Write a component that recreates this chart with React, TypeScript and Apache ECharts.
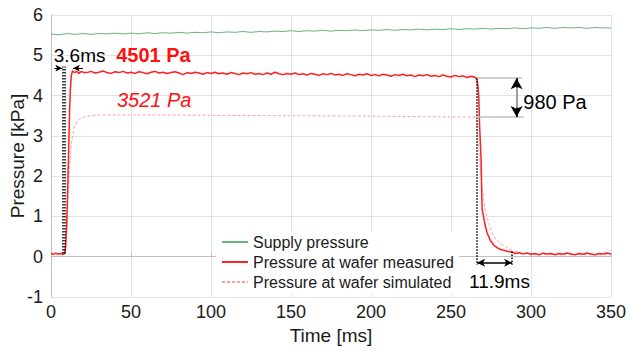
import React, { useEffect, useRef } from "react";
import * as echarts from "echarts";

// Time [ms], pressure [kPa]
const supplyPressure: [number, number][] = [
  [0, 5.53], [5, 5.51], [10, 5.54], [15, 5.52], [20, 5.54], [25, 5.52], [30, 5.54], [35, 5.53], [40, 5.55],
  [45, 5.53], [50, 5.55], [55, 5.53], [60, 5.56], [65, 5.54], [70, 5.56], [75, 5.55], [80, 5.57], [85, 5.55],
  [90, 5.57], [95, 5.56], [100, 5.58], [105, 5.56], [110, 5.58], [115, 5.57], [120, 5.59], [125, 5.57],
  [130, 5.59], [135, 5.58], [140, 5.60], [145, 5.59], [150, 5.61], [155, 5.59], [160, 5.61], [165, 5.60],
  [170, 5.62], [175, 5.60], [180, 5.62], [185, 5.61], [190, 5.63], [195, 5.61], [200, 5.63], [205, 5.62],
  [210, 5.64], [215, 5.62], [220, 5.64], [225, 5.63], [230, 5.65], [235, 5.63], [240, 5.65], [245, 5.64],
  [250, 5.66], [255, 5.64], [260, 5.66], [265, 5.65], [270, 5.67], [275, 5.65], [280, 5.67], [285, 5.66],
  [290, 5.68], [295, 5.66], [300, 5.68], [305, 5.67], [310, 5.69], [315, 5.67], [320, 5.69], [325, 5.68],
  [330, 5.69], [335, 5.67], [340, 5.69], [345, 5.68], [350, 5.68],
];

const measuredPressure: [number, number][] = [
  [0, 0.08], [1.5, 0.06], [3, 0.09], [4.5, 0.07], [6, 0.08], [7.5, 0.06], [8.5, 0.08],
  [9.2, 0.3], [9.8, 0.75], [10.3, 1.5], [10.7, 2.1], [11.2, 2.9], [11.6, 3.6], [12.1, 4.15], [12.7, 4.5],
  [13.5, 4.62], [14.5, 4.57], [16, 4.6], [17.5, 4.55], [19, 4.6], [20.5, 4.57],
  [22.5, 4.57], [25, 4.6], [27.5, 4.56], [30, 4.58], [32.5, 4.61], [35, 4.57], [37.5, 4.55], [40, 4.59],
  [42.5, 4.57], [45, 4.6], [47.5, 4.56], [50, 4.58], [52.5, 4.55], [55, 4.59], [57.5, 4.57], [60, 4.54],
  [62.5, 4.58], [65, 4.6], [67.5, 4.56], [70, 4.58], [72.5, 4.55], [75, 4.57], [77.5, 4.59], [80, 4.56],
  [82.5, 4.52], [85, 4.57], [87.5, 4.55], [90, 4.58], [92.5, 4.56], [95, 4.53], [97.5, 4.57], [100, 4.55],
  [102.5, 4.58], [105, 4.54], [107.5, 4.56], [110, 4.53], [112.5, 4.57], [115, 4.55], [117.5, 4.52],
  [120, 4.56], [122.5, 4.54], [125, 4.57], [127.5, 4.53], [130, 4.55], [132.5, 4.52], [135, 4.56],
  [137.5, 4.53], [140, 4.58], [142.5, 4.54], [145, 4.52], [147.5, 4.55], [150, 4.53], [152.5, 4.56],
  [155, 4.52], [157.5, 4.54], [160, 4.51], [162.5, 4.55], [165, 4.53], [167.5, 4.5], [170, 4.54],
  [172.5, 4.52], [175, 4.55], [177.5, 4.51], [180, 4.53], [182.5, 4.5], [185, 4.54], [187.5, 4.52],
  [190, 4.49], [192.5, 4.53], [195, 4.51], [197.5, 4.54], [200, 4.5], [202.5, 4.52], [205, 4.49],
  [207.5, 4.53], [210, 4.51], [212.5, 4.48], [215, 4.52], [217.5, 4.5], [220, 4.53], [222.5, 4.49],
  [225, 4.51], [227.5, 4.47], [230, 4.51], [232.5, 4.49], [235, 4.52], [237.5, 4.48], [240, 4.5],
  [242.5, 4.47], [245, 4.51], [247.5, 4.48], [250, 4.46], [252.5, 4.5], [255, 4.47], [257.5, 4.49],
  [260, 4.45], [262.5, 4.48], [264.5, 4.46], [266, 4.43],
  [266.8, 4.25], [267.3, 4.02], [267.9, 3.23], [268.8, 2.4], [269.2, 1.57], [269.5, 1.16], [270.4, 0.99],
  [271.5, 0.75], [272.6, 0.59], [274.5, 0.41], [276.7, 0.29], [279, 0.22], [281, 0.18], [283, 0.16],
  [285.5, 0.13], [288, 0.12], [290, 0.08], [292.5, 0.1], [295, 0.07], [297.5, 0.09], [300, 0.06],
  [302.5, 0.08], [305, 0.05], [307.5, 0.09], [310, 0.07], [312.5, 0.08], [315, 0.05], [317.5, 0.08],
  [320, 0.06], [322.5, 0.09], [325, 0.07], [327.5, 0.05], [330, 0.08], [332.5, 0.06], [335, 0.09],
  [337.5, 0.07], [340, 0.05], [342.5, 0.08], [345, 0.07], [347.5, 0.09], [350, 0.07],
];

const simulatedPressure: [number, number][] = [
  [0, 0.05], [8.5, 0.05], [9.5, 0.5], [10.5, 1.3], [11.5, 2.1], [12.5, 2.7], [13.5, 3.0], [15, 3.25],
  [17, 3.38], [20, 3.46], [25, 3.5], [30, 3.52], [40, 3.52], [60, 3.52], [100, 3.51], [150, 3.5],
  [200, 3.49], [250, 3.47], [265.3, 3.47], [266.5, 3.1], [267.5, 2.6], [268.5, 2.1], [269.5, 1.7],
  [270.5, 1.4], [272, 1.05], [274, 0.8], [276.5, 0.52], [279.5, 0.38], [283, 0.28], [287, 0.18],
  [291.5, 0.12], [296, 0.08], [300, 0.06], [320, 0.05], [350, 0.05],
];

const seriesNames = ["Supply pressure", "Pressure at wafer measured", "Pressure at wafer simulated"];
const xTicks = { min: 0, max: 350, interval: 50 };
const yTicks = { min: -1, max: 6, interval: 1 };

const FONT = "'Liberation Sans', Arial, sans-serif";

const dotted = { color: "#000", type: "dotted" as const, width: 1.5 };
const arrowLine = { color: "#000", type: "solid" as const, width: 1 };

function seg(a: [number, number], b: [number, number], ls: any, s1 = "none", s2 = "none", size: any = [6, 8]) {
  return [
    { coord: a, symbol: s1, symbolSize: size, lineStyle: ls },
    { coord: b, symbol: s2, symbolSize: size, lineStyle: ls },
  ];
}

function txt(coord: [number, number], text: string, extra: any) {
  return {
    coord,
    symbol: "rect",
    symbolSize: 0,
    itemStyle: { color: "transparent" },
    label: { show: true, position: "inside", formatter: text, fontFamily: FONT, ...extra },
  };
}

export default function App() {
  const ref = useRef<HTMLDivElement>(null);
  useEffect(() => {
    if (!ref.current) return;
    const chart = echarts.init(ref.current, null, { renderer: "svg" });
    const gray = { color: "#bfbfbf", type: "solid" as const, width: 1.5 };
    const darkGray = { color: "#7f7f7f", type: "solid" as const, width: 1.5 };
    chart.setOption({
      animation: false,
      textStyle: { fontFamily: FONT },
      grid: { left: 51, right: 19, top: 15, bottom: 54, containLabel: false, outerBoundsMode: "none" },
      legend: {
        data: seriesNames,
        orient: "vertical",
        left: 216,
        top: 231,
        itemWidth: 26,
        itemHeight: 10,
        itemGap: 2,
        padding: [2, 5],
        backgroundColor: "#fff",
        itemStyle: { opacity: 0 },
        textStyle: { fontSize: 16, color: "#1a1a1a", fontFamily: FONT, lineHeight: 18 },
      },
      xAxis: {
        type: "value",
        ...xTicks,
        name: "Time [ms]",
        nameLocation: "middle",
        nameGap: 29,
        nameMoveOverlap: false,
        nameTextStyle: { fontSize: 19, color: "#1a1a1a", fontFamily: FONT },
        axisLine: { show: true, lineStyle: { color: "#bfbfbf", width: 1 } },
        axisTick: { show: true, inside: true, length: 4, lineStyle: { color: "#bfbfbf" } },
        axisLabel: { fontSize: 18, color: "#1a1a1a", margin: 6, fontFamily: FONT },
        splitLine: { show: true, lineStyle: { color: "#e3e3e3", width: 1 } },
      },
      yAxis: {
        type: "value",
        ...yTicks,
        name: "Pressure [kPa]",
        nameLocation: "middle",
        nameGap: 24,
        nameMoveOverlap: false,
        nameTextStyle: { fontSize: 19, color: "#1a1a1a", fontFamily: FONT },
        axisLine: { show: true, lineStyle: { color: "#bfbfbf", width: 1 } },
        axisTick: { show: false },
        axisLabel: { fontSize: 18, color: "#1a1a1a", margin: 8, fontFamily: FONT },
        splitLine: { show: true, lineStyle: { color: "#e3e3e3", width: 1 } },
      },
      series: [
        {
          name: seriesNames[0],
          type: "line",
          data: supplyPressure,
          showSymbol: false,
          symbol: "none",
          lineStyle: { color: "#6cb47a", width: 1 },
          itemStyle: { color: "#6cb47a" },
        },
        {
          name: seriesNames[2],
          type: "line",
          data: simulatedPressure,
          showSymbol: false,
          symbol: "none",
          smooth: 0.3,
          lineStyle: { color: "#ffa0a0", width: 1, type: [3, 2] },
          itemStyle: { color: "#ffa0a0" },
        },
        {
          name: seriesNames[1],
          type: "line",
          data: measuredPressure,
          showSymbol: false,
          symbol: "none",
          lineStyle: { color: "#ff2020", width: 1.5 },
          itemStyle: { color: "#ff2020" },
        },
        {
          name: "annotations",
          type: "line",
          data: [],
          silent: true,
          markLine: {
            silent: true,
            animation: false,
            label: { show: false },
            emphasis: { disabled: true },
            data: [
              seg([7.1, 0.08], [7.1, 4.72], dotted),
              seg([8.5, 0.08], [8.5, 4.72], dotted),
              seg([2.2, 4.68], [7.1, 4.68], arrowLine, "none", "arrow", [5, 7]),
              seg([20, 4.68], [13.7, 4.68], arrowLine, "none", "arrow", [5, 7]),
              seg([266.3, 4.43], [266.3, -0.2], dotted),
              seg([288.2, 0.13], [288.2, -0.2], dotted),
              seg([266.3, -0.15], [288.2, -0.15], { color: "#000", type: "solid", width: 1.5 }, "arrow", "arrow", [6, 8]),
              seg([266.3, 4.43], [294.5, 4.43], gray),
              seg([265.3, 3.47], [295.5, 3.47], gray),
              seg([291, 3.47], [291, 4.43], darkGray),
              seg([291, 4.2], [291, 4.43], { color: "#000", type: "solid", width: 1.5 }, "none", "arrow", [9, 11]),
              seg([291, 3.7], [291, 3.47], { color: "#000", type: "solid", width: 1.5 }, "none", "arrow", [9, 11]),
            ],
          },
          markPoint: {
            silent: true,
            animation: false,
            data: [
              txt([17.9, 5.0], "3.6ms", { fontSize: 19, color: "#000" }),
              txt([64, 5.0], "4501 Pa", { fontSize: 20, color: "#ff1010", fontWeight: "bold" }),
              txt([64.5, 3.89], "3521 Pa", { fontSize: 20, color: "#ff1010", fontStyle: "italic" }),
              txt([315, 3.85], "980 Pa", { fontSize: 20, color: "#000" }),
              txt([280.3, -0.62], "11.9ms", { fontSize: 19, color: "#000" }),
            ],
          },
        },
      ],
    });
    return () => chart.dispose();
  }, []);
  return (
    <div
      ref={ref}
      style={{ position: "fixed", left: 0, top: 0, width: 630, height: 351, background: "#fff" }}
    />
  );
}
